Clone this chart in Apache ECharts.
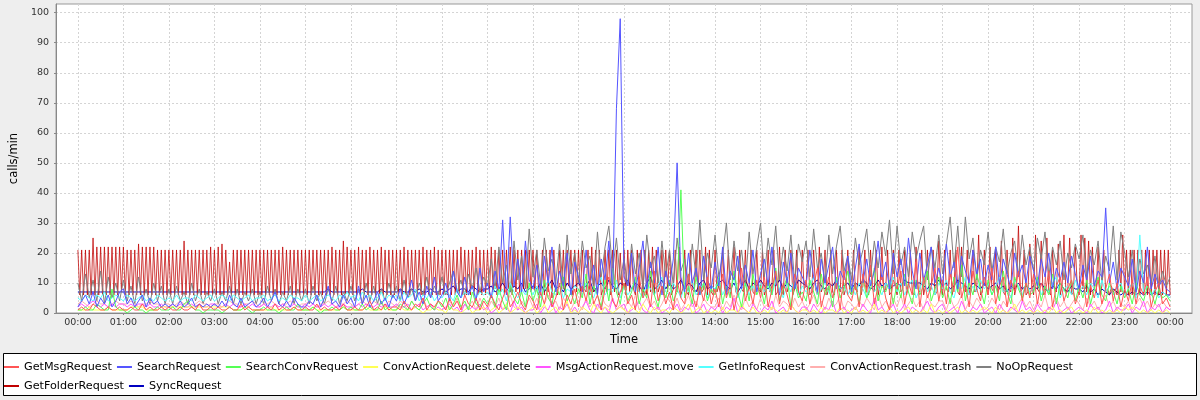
<!DOCTYPE html>
<html><head><meta charset="utf-8">
<script src="https://cdn.jsdelivr.net/npm/echarts@6/dist/echarts.min.js"></script>
<style>html,body{margin:0;padding:0;background:#eeeeee}#c{width:1200px;height:400px}</style>
</head><body><div id="c"></div><script>
// x positions are minutes after 00:00; most series sampled every 5 min, GetFolderRequest every 2.5 min
const STEP = 5;
const STEP_FOLDER = 2.5;
const tickMinutes = [0,60,120,180,240,300,360,420,480,540,600,660,720,780,840,900,960,1020,1080,1140,1200,1260,1320,1380,1440];
const tickLabels = ['00:00','01:00','02:00','03:00','04:00','05:00','06:00','07:00','08:00','09:00','10:00','11:00','12:00','13:00','14:00','15:00','16:00','17:00','18:00','19:00','20:00','21:00','22:00','23:00','00:00'];
const yTicks = [0,10,20,30,40,50,60,70,80,90,100];
const seriesNames = ['GetMsgRequest','SearchRequest','SearchConvRequest','ConvActionRequest.delete','MsgActionRequest.move','GetInfoRequest','ConvActionRequest.trash','NoOpRequest','GetFolderRequest','SyncRequest'];
const seriesColors = ['#ff5555','#5555ff','#55ff55','#ffff55','#ff55ff','#55ffff','#ffafaf','#808080','#c00000','#0000c0'];

const getMsgRequest = [
1,2,1,1,3,2,1,1,2,1,1,2,
1,1,2,1,1,3,1,2,1,1,2,1,
2,1,1,2,1,1,2,1,3,1,1,2,
1,2,1,1,2,1,1,3,1,2,1,1,
1,1,2,1,3,1,2,1,1,2,1,1,
2,1,1,3,1,2,1,1,2,1,3,1,
1,2,1,1,2,4,1,2,1,3,1,2,
2,1,4,2,1,3,2,5,1,3,2,4,
3,1,5,2,4,1,6,3,2,5,1,4,
2,6,3,1,5,8,2,4,7,3,1,6,
4,1,7,3,9,2,5,10,1,6,3,8,
2,9,4,11,3,6,1,8,12,4,2,7,
10,3,6,1,12,5,8,2,14,4,9,3,
7,1,11,5,3,13,6,2,9,4,12,3,
8,2,13,5,10,1,7,15,4,9,3,11,
5,12,2,8,14,3,10,6,1,13,7,4,
11,3,9,15,2,7,12,5,10,1,14,6,
4,10,2,13,7,16,3,9,12,5,1,11,
8,14,3,10,6,17,2,12,5,9,15,4,
11,3,13,7,22,5,10,2,14,8,4,12,
6,15,3,9,12,2,11,7,14,4,10,5,
13,3,10,6,14,2,9,12,4,8,11,3,
7,12,2,9,5,11,3,8,13,4,10,2,
8,4,11,3,9,6,12,2,7,10,3,5,
2];

const searchRequest = [
2,4,6,3,7,2,5,3,6,2,4,7,
8,3,5,2,4,6,2,5,3,4,2,3,
2,3,2,4,2,3,5,2,3,2,3,2,
3,2,4,2,6,3,2,5,2,3,4,2,
3,5,2,4,7,3,2,4,2,5,3,2,
2,4,3,6,2,5,9,3,4,2,6,3,
5,2,9,3,6,2,4,7,3,5,2,6,
4,8,3,6,11,4,7,3,9,5,12,4,
6,10,4,14,7,5,12,6,9,4,15,7,
10,5,14,8,31,6,32,9,18,7,24,11,
8,16,6,19,10,22,7,14,9,20,6,17,
12,7,21,9,16,6,18,11,24,8,68,98,
12,9,20,7,15,24,8,17,10,22,6,14,
9,18,50,12,7,20,10,15,6,19,11,8,
17,9,22,6,14,11,19,8,16,10,21,7,
13,18,9,22,11,6,17,10,20,8,15,12,
9,21,12,7,18,10,16,22,8,14,11,19,
7,15,23,10,18,9,14,24,11,17,8,20,
12,18,9,25,14,8,20,11,16,22,10,15,
9,23,12,17,8,19,14,10,21,13,18,9,
16,11,22,9,18,13,8,20,12,16,10,19,
14,9,18,12,20,8,15,11,17,10,19,13,
8,16,11,19,9,14,12,35,10,17,8,15,
12,9,18,7,14,10,22,8,13,9,11,8,
7];

const searchConvRequest = [
1,1,2,1,1,3,2,1,1,8,2,1,
1,0,1,2,1,1,0,1,1,2,1,1,
1,2,1,1,3,4,2,1,1,0,1,1,
1,1,0,1,2,1,1,1,2,1,0,1,
1,2,1,1,1,0,1,2,1,1,3,1,
1,1,2,1,0,1,1,2,1,1,2,1,
2,1,1,3,1,2,1,1,4,1,2,1,
1,3,2,1,4,2,1,3,5,2,1,4,
2,5,1,3,6,2,4,1,7,3,2,5,
3,6,2,8,4,1,9,5,3,7,2,10,
4,8,2,11,5,3,9,6,12,4,7,3,
8,5,13,3,9,6,2,11,4,15,7,3,
10,4,7,12,3,8,5,14,6,2,9,5,
11,4,7,41,5,9,3,12,6,10,4,8,
6,12,3,9,5,14,7,2,10,4,13,6,
9,3,11,6,15,4,8,12,2,10,5,7,
4,11,7,3,13,6,9,2,12,5,8,14,
6,10,3,12,5,8,15,4,9,7,11,3,
10,5,13,7,3,11,6,9,14,4,8,12,
5,9,3,12,7,16,4,10,6,13,8,3,
11,6,9,4,14,7,3,12,8,5,10,6,
7,12,4,9,6,13,3,10,8,5,11,4,
9,5,11,3,8,12,6,4,10,7,3,9,
5,8,3,10,6,4,9,7,3,8,5,6,
4];

const convActionDelete = [
1,1,1,2,1,1,1,1,2,1,1,1,
1,1,2,2,2,2,1,1,1,1,2,2,
2,2,2,2,2,2,2,2,2,2,2,2,
2,2,2,2,2,1,1,1,2,2,1,1,
1,1,1,2,1,1,1,1,1,2,1,1,
1,1,2,1,1,1,1,1,1,1,2,1,
1,1,1,1,2,1,1,1,1,2,1,1,
1,2,1,1,1,2,1,0,1,1,2,1,
1,0,2,1,1,0,1,2,0,1,1,2,
0,1,2,0,1,3,0,1,2,1,0,1,
2,0,1,3,0,1,2,0,1,4,0,1,
0,2,1,0,3,1,0,2,1,0,1,2,
1,0,2,1,0,3,1,0,2,0,1,1,
0,2,1,0,1,3,0,1,2,0,1,0,
1,0,2,0,1,1,0,3,1,0,2,0,
0,1,0,2,1,0,1,0,3,1,0,1,
1,0,1,0,2,0,1,1,0,2,0,1,
0,2,0,1,0,1,3,0,1,0,2,0,
1,0,1,2,0,1,0,1,0,3,0,1,
0,1,0,1,2,0,1,0,1,0,1,2,
1,0,2,0,1,0,1,3,0,1,0,1,
0,1,0,1,0,2,0,1,0,1,2,0,
1,0,1,0,2,0,1,0,1,0,1,0,
2,1,2,1,0,1,0,1,0,1,0,1,
0];

const msgActionMove = [
2,3,2,3,4,3,2,3,2,3,2,3,
3,2,3,2,3,3,2,3,2,2,3,2,
2,3,2,3,2,2,3,2,3,2,2,3,
3,2,2,3,2,3,2,2,3,2,3,2,
2,3,2,2,3,2,3,2,2,3,2,2,
3,2,3,2,2,3,2,3,2,2,3,2,
2,2,3,2,3,2,2,3,2,3,2,2,
3,2,2,3,1,2,3,1,2,3,1,2,
1,2,3,1,2,0,3,1,2,1,3,1,
2,0,1,3,1,2,0,4,1,2,0,1,
1,3,0,2,1,4,0,2,1,3,0,2,
0,2,4,1,0,3,1,2,0,5,1,2,
3,0,1,2,4,1,0,3,1,2,0,1,
2,1,3,0,2,1,4,0,1,3,0,2,
1,3,0,2,1,5,0,2,1,0,3,1,
0,2,1,4,0,1,2,0,3,1,0,2,
2,0,3,1,0,2,1,4,0,1,2,0,
1,2,0,3,1,0,5,1,2,0,1,3,
0,1,3,0,2,1,0,2,4,1,0,2,
3,0,1,2,0,4,1,0,2,1,3,0,
1,2,0,3,1,0,2,1,0,4,1,2,
0,3,1,0,2,1,4,0,1,2,0,1,
2,1,0,3,1,2,0,1,4,0,2,1,
1,3,0,2,1,4,0,2,1,3,0,2,
1];

const getInfoRequest = [
5,4,6,5,4,6,5,7,4,5,6,5,
4,6,5,4,5,6,4,5,4,6,5,4,
5,4,6,4,5,5,4,6,5,4,5,6,
4,5,6,5,4,6,5,4,5,6,4,5,
5,6,4,5,6,4,5,4,6,5,5,4,
6,4,5,6,4,5,6,5,4,6,5,7,
5,6,4,7,5,6,4,5,7,4,6,5,
6,4,7,5,6,8,4,6,5,7,4,6,
5,7,6,4,8,5,7,6,9,5,7,6,
7,5,9,6,8,4,10,7,5,8,6,9,
6,9,5,8,11,7,6,10,5,8,7,9,
8,6,10,7,5,9,12,6,8,7,11,5,
9,6,8,11,7,5,10,8,6,9,12,7,
6,10,8,5,9,7,11,6,8,10,5,9,
8,11,6,9,7,12,5,8,10,6,9,7,
10,7,9,6,11,8,5,10,7,12,6,9,
7,9,12,6,8,10,7,5,11,8,9,6,
9,6,10,8,5,11,7,9,6,10,8,12,
7,10,6,9,11,5,8,12,7,9,6,10,
8,11,7,5,10,8,12,6,9,7,11,8,
10,6,9,12,7,8,5,11,9,6,10,7,
8,11,6,9,7,10,12,5,8,9,6,11,
7,9,6,10,8,5,11,7,9,6,8,10,
6,8,10,5,26,7,9,6,8,5,7,6,
5];

const convActionTrash = [
3,4,3,2,3,4,3,3,2,3,4,3,
3,3,4,3,2,3,3,4,3,3,2,3,
3,2,3,4,3,3,2,3,4,3,3,2,
3,3,2,3,4,3,3,2,3,3,4,3,
2,3,3,4,3,2,3,3,4,3,2,3,
3,4,3,2,3,3,4,3,2,3,3,4,
3,2,3,4,3,2,4,3,3,2,4,3,
2,4,3,1,4,2,3,5,2,3,1,4,
3,1,4,2,5,1,3,2,4,1,5,2,
1,4,2,5,1,3,6,2,1,4,2,5,
2,5,1,3,6,2,4,1,5,3,1,4,
3,1,5,2,4,1,6,3,2,5,1,3,
1,4,2,6,1,3,5,2,4,1,3,6,
4,2,5,1,3,6,2,4,1,5,3,2,
2,5,1,4,2,6,3,1,5,2,4,1,
5,2,3,1,6,2,4,3,1,5,2,4,
1,3,6,2,4,1,5,2,3,6,1,4,
3,1,4,2,5,3,1,6,2,4,1,5,
2,6,1,3,5,2,4,1,6,3,2,4,
4,1,5,2,3,6,1,4,2,5,3,1,
2,5,3,1,4,2,6,1,3,5,2,4,
1,4,2,6,1,3,5,2,4,1,3,5,
3,1,5,2,4,1,3,6,2,4,1,3,
2,4,1,3,5,2,4,1,3,2,4,2,
1];

const noOpRequest = [
10,4,13,5,11,4,14,3,12,5,10,4,
11,4,9,3,12,4,8,3,10,4,9,3,
8,3,9,4,7,3,10,4,8,3,7,4,
8,3,7,4,9,3,8,3,7,4,8,3,
7,3,9,4,8,3,7,4,9,3,8,4,
8,3,9,4,7,3,8,4,9,3,7,4,
9,4,8,3,10,4,9,3,8,4,10,5,
9,4,11,5,8,4,10,6,12,5,9,6,
12,6,10,14,7,11,6,13,8,15,7,12,
9,18,8,22,10,16,7,24,11,19,8,28,
12,21,9,25,14,18,10,23,8,26,13,20,
10,24,15,19,8,27,12,22,29,14,25,11,
18,9,23,13,20,8,26,15,19,10,24,12,
21,9,25,14,18,10,23,12,31,11,20,15,
26,12,19,30,11,24,14,21,9,27,13,22,
30,12,25,16,29,11,22,14,26,10,23,17,
24,12,28,15,20,10,26,13,22,29,14,19,
11,25,16,21,28,12,24,15,27,19,31,13,
29,16,22,12,27,18,24,29,11,22,15,26,
13,23,32,15,29,12,32,18,25,11,21,16,
27,14,22,17,28,13,20,24,12,26,16,22,
14,25,18,27,12,22,16,24,11,20,15,23,
18,26,12,21,16,24,10,19,14,29,11,27,
20,12,21,9,18,13,16,10,19,8,14,9,
12];

const getFolderRequest = [
21,6,21,6,21,6,21,6,25,6,22,6,22,6,22,6,22,6,22,6,22,6,22,7,
22,6,21,6,21,6,21,6,23,6,22,6,22,6,22,6,22,6,21,6,21,6,21,6,
21,6,21,6,21,6,21,6,24,6,21,6,21,6,21,6,21,6,21,6,21,6,22,6,
21,6,22,6,23,6,21,6,17,6,21,6,21,6,21,6,21,6,21,6,21,6,21,6,
21,6,21,6,21,6,21,6,21,6,21,6,22,6,21,6,21,6,21,6,21,6,21,6,
21,6,21,6,21,6,21,6,21,6,21,6,21,6,22,6,21,6,21,6,24,6,22,6,
21,6,21,6,22,6,21,6,21,6,22,6,21,6,21,6,22,6,21,6,21,6,21,6,
21,6,21,6,22,6,21,6,21,6,21,6,21,6,22,6,21,6,21,6,22,6,21,6,
21,6,21,6,21,6,21,6,21,6,22,6,21,6,21,6,21,6,22,6,21,6,21,6,
21,6,22,7,21,6,21,7,21,6,21,8,22,6,21,7,21,6,21,8,21,6,21,7,
21,7,21,6,8,21,6,21,7,21,5,21,8,6,21,7,21,6,21,9,21,6,21,7,
21,6,21,8,7,21,6,22,7,21,6,21,6,8,21,7,21,6,21,7,21,6,20,7,
21,6,21,7,21,8,6,21,7,21,6,21,6,21,7,22,6,21,7,9,21,6,21,7,
21,6,8,21,7,22,6,8,21,7,6,21,8,7,21,6,21,7,8,22,6,21,7,6,
21,7,9,6,21,8,7,21,6,9,22,7,6,21,8,7,21,6,9,21,7,6,21,8,
7,21,6,8,21,7,9,21,6,7,22,8,6,21,7,9,21,6,8,21,7,6,21,8,
9,21,6,7,21,8,6,22,7,9,21,6,8,21,7,6,21,9,7,21,6,8,21,7,
6,21,8,7,22,6,9,21,7,6,21,8,7,21,6,9,22,7,8,21,6,7,21,9,
6,21,7,8,21,6,9,21,7,6,22,8,7,21,6,9,21,7,8,21,6,7,24,9,
6,21,8,7,21,6,9,21,7,6,22,8,7,21,6,9,21,7,8,26,6,7,21,9,
6,22,8,7,21,6,9,24,7,6,21,8,7,25,6,9,29,7,8,21,6,7,23,9,
6,26,8,7,24,6,9,25,7,6,21,8,7,23,6,9,26,7,8,25,6,7,22,9,
6,26,8,25,7,24,6,22,8,7,22,6,9,21,7,8,6,9,7,8,6,21,7,26,
6,21,6,21,6,21,6,21,6,21,6,21,6,21,6,21,6,21,6,21,6,21,6,21,
6];

const syncRequest = [
7,7,7,7,7,7,7,7,7,7,7,7,
7,7,7,7,7,7,7,7,7,7,7,7,
7,7,7,7,7,7,7,7,7,7,7,7,
7,7,7,7,7,7,7,7,7,7,7,7,
7,7,7,7,7,7,7,7,7,7,7,7,
7,7,7,7,7,7,8,7,7,7,7,7,
7,7,7,8,7,7,7,7,8,7,7,7,
7,8,7,7,8,7,8,7,7,8,7,7,
8,7,8,9,7,8,8,7,9,8,7,8,
8,9,7,8,10,8,7,9,8,10,7,8,
9,8,10,7,9,11,8,9,7,10,8,9,
10,8,9,11,7,9,10,8,11,9,8,10,
9,11,8,10,9,7,10,12,8,9,11,8,
10,8,9,11,8,10,9,7,10,11,8,9,
8,10,11,9,8,10,7,9,11,8,10,9,
11,9,8,10,9,11,8,10,9,8,11,10,
9,8,10,11,9,8,10,9,11,8,9,10,
8,10,9,11,10,8,9,11,9,10,8,9,
10,9,11,10,10,10,10,9,8,10,9,11,
9,10,8,9,11,10,9,8,10,9,8,10,
8,9,10,8,9,7,9,8,10,8,9,8,
9,8,10,8,7,9,8,10,8,7,9,8,
8,7,9,7,8,6,8,7,6,8,7,6,
7,6,7,6,7,6,7,6,7,6,7,6,
6];

const seriesValues = [getMsgRequest, searchRequest, searchConvRequest, convActionDelete, msgActionMove, getInfoRequest, convActionTrash, noOpRequest, getFolderRequest, syncRequest];
const seriesSteps = [STEP, STEP, STEP, STEP, STEP, STEP, STEP, STEP, STEP_FOLDER, STEP];
const seriesWidths = [1, 1, 1, 1, 1, 1, 1, 1, 0.75, 1];

const chart = echarts.init(document.getElementById('c'), null, {renderer: 'canvas'});
const series = [];
// JFreeChart draws the first series on top, so add them in reverse order
for (let i = seriesNames.length - 1; i >= 0; i--) {
  series.push({
    name: seriesNames[i],
    type: 'line',
    data: seriesValues[i].map((v, k) => [k * seriesSteps[i], v]),
    symbol: 'none',
    showSymbol: false,
    color: seriesColors[i],
    itemStyle: {color: seriesColors[i]},
    lineStyle: {width: seriesWidths[i], color: seriesColors[i]},
    animation: false,
    silent: true
  });
}
const fmtTime = v => { const k = tickMinutes.indexOf(v); return k >= 0 ? tickLabels[k] : ''; };
chart.setOption({
  backgroundColor: '#eeeeee',
  animation: false,
  graphic: [{type: 'rect', z: 0, silent: true, shape: {x: 3.5, y: 353.5, width: 1193, height: 42}, style: {fill: '#ffffff', stroke: '#000000', lineWidth: 1}}],
  grid: {left: 55, top: 4, width: 1137, height: 309, show: true, backgroundColor: '#ffffff', borderColor: '#999999', borderWidth: 1},
  legend: {
    data: seriesNames, left: 4, top: 360, width: 1140, padding: 0, itemGap: 5, itemWidth: 15, itemHeight: 2,
    icon: 'rect', selectedMode: false, z: 10,
    itemStyle: {opacity: 1},
    textStyle: {fontFamily: 'DejaVu Sans', fontSize: 11.2, color: '#000000', lineHeight: 14}
  },
  xAxis: {
    type: 'value', min: -28.8, max: 1468.8,
    name: 'Time', nameLocation: 'middle', nameGap: 21,
    nameTextStyle: {fontFamily: 'DejaVu Sans', fontSize: 11.5, color: '#000000'},
    axisLine: {show: true, onZero: false, lineStyle: {color: '#888888'}},
    axisTick: {show: true, length: 2, customValues: tickMinutes, lineStyle: {color: '#888888'}},
    axisLabel: {customValues: tickMinutes, formatter: fmtTime, margin: 5, fontFamily: 'DejaVu Sans', fontSize: 9.5, color: '#333333'},
    splitLine: {show: true, lineStyle: {color: '#d4d4d4', type: [2, 2], width: 1}}
  },
  yAxis: {
    type: 'value', min: 0, max: 102.9,
    name: 'calls/min', nameLocation: 'middle', nameGap: 28, nameRotate: 90,
    nameTextStyle: {fontFamily: 'DejaVu Sans', fontSize: 11.5, color: '#000000'},
    axisLine: {show: true, onZero: false, lineStyle: {color: '#888888'}},
    axisTick: {show: true, length: 2, customValues: yTicks, lineStyle: {color: '#888888'}},
    axisLabel: {customValues: yTicks, margin: 7, fontFamily: 'DejaVu Sans', fontSize: 9.5, color: '#333333'},
    splitLine: {show: true, lineStyle: {color: '#d4d4d4', type: [2, 2], width: 1}}
  },
  series: series
});
</script></body></html>
